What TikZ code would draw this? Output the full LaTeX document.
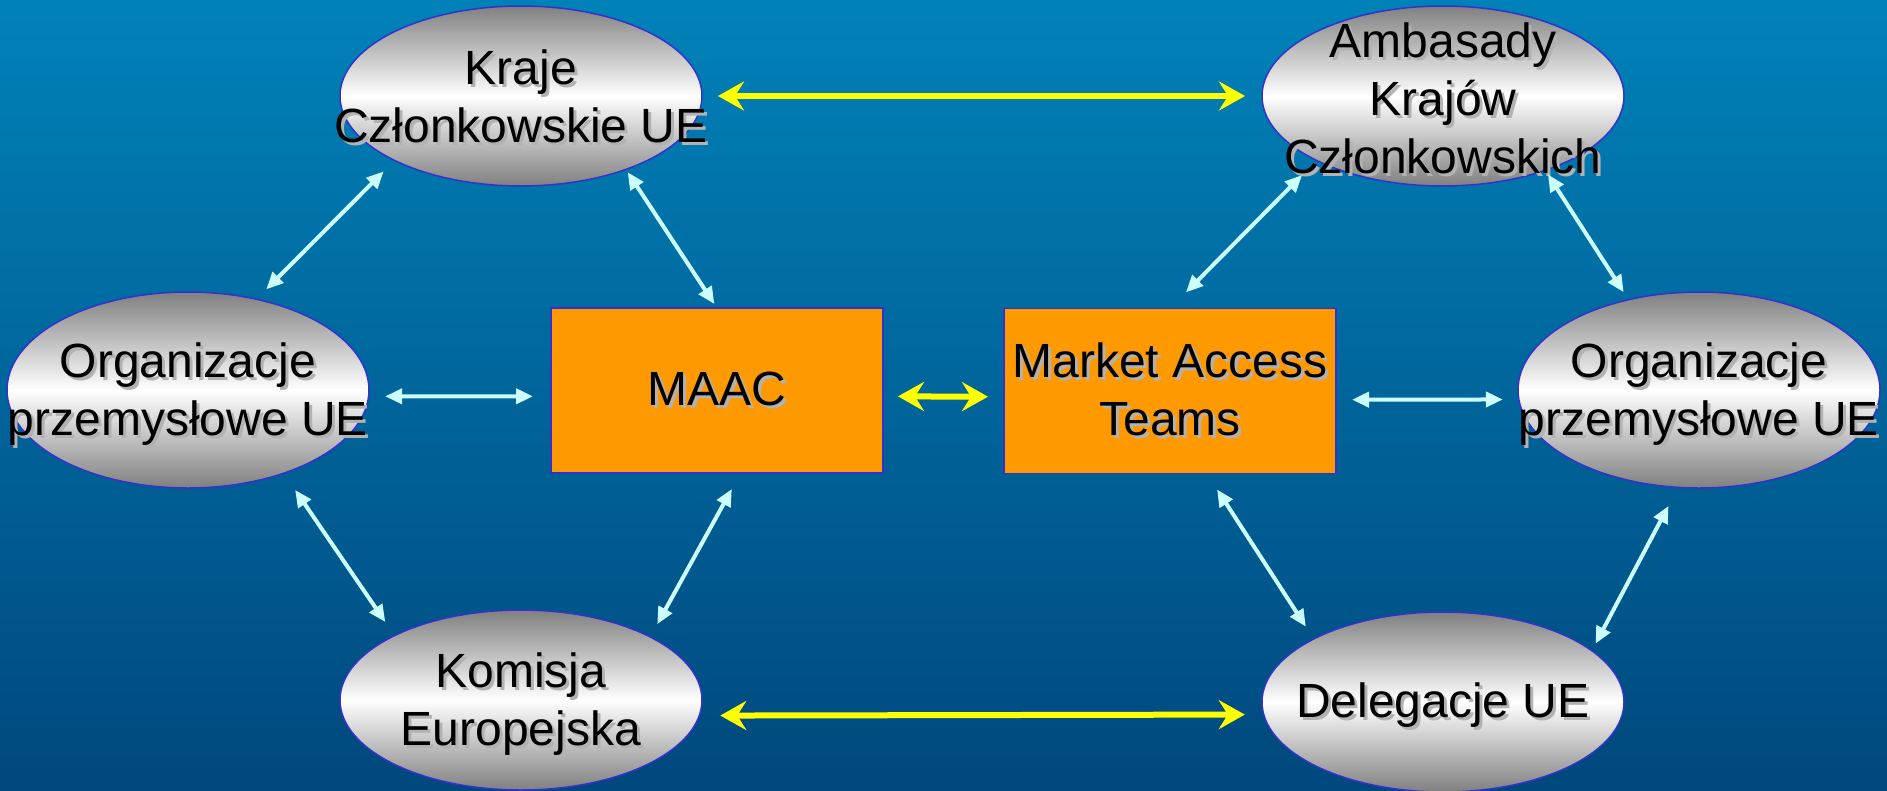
\documentclass[tikz,border=0pt]{standalone}
\usepackage{fontspec}
\setmainfont{Liberation Sans}
\usetikzlibrary{shapes.geometric,arrows.meta}
\definecolor{bgtop}{RGB}{0,130,185}
\definecolor{bgbot}{RGB}{0,72,125}
\definecolor{ellgray}{RGB}{128,128,128}
\definecolor{bordblue}{RGB}{51,51,204}
\definecolor{boxorange}{RGB}{255,153,0}
\definecolor{shadowgray}{RGB}{178,178,178}
\definecolor{cyanarrow}{RGB}{204,255,255}
\definecolor{yelarrow}{RGB}{255,255,0}
\newcommand\shd[1]{\rlap{\hspace{3pt}\raisebox{-3pt}{\color{shadowgray}#1}}#1}
\tikzset{
  ell/.style={ellipse, draw=bordblue, line width=1.5pt,
    top color=ellgray, bottom color=ellgray, middle color=white,
    minimum width=362pt, minimum height=180pt, inner sep=0pt, outer sep=0pt},
  tallell/.style={ell, minimum height=196pt},
  txt/.style={font=\fontsize{48}{58}\selectfont, align=center, text=black, inner sep=0pt},
  box/.style={rectangle, draw=bordblue, line width=1.5pt, fill=boxorange,
    minimum width=332pt, minimum height=165pt, inner sep=0pt, outer sep=0pt,
    font=\fontsize{48}{58}\selectfont, align=center, text=black},
  cya/.style={draw=cyanarrow, line width=4pt, {Triangle[length=17pt,width=15pt]}-{Triangle[length=17pt,width=15pt]}},
  yel/.style={draw=yelarrow, line width=6pt, {Stealth[length=26pt,width=29pt,inset=9pt]}-{Stealth[length=26pt,width=29pt,inset=9pt]}}
}
\begin{document}
\begin{tikzpicture}[x=1pt,y=-1pt]
\useasboundingbox (0,0) rectangle (1887,790);
\shade[top color=bgtop,bottom color=bgbot] (0,0) rectangle (1887,790);

\node[ell, label={[txt,yshift=-2pt]center:{\shd{Kraje}\\\shd{Członkowskie UE}}}] (kraje) at (521,96) {};
\node[ell, label={[txt,yshift=-4pt]center:{\shd{Ambasady}\\\shd{Krajów}\\\shd{Członkowskich}}}] (amb) at (1443,96) {};
\node[tallell, label={[txt,yshift=-6pt]center:{\shd{Organizacje}\\\shd{przemysłowe UE}}}] (orgl) at (188,390) {};
\node[tallell, label={[txt,yshift=-6pt]center:{\shd{Organizacje}\\\shd{przemysłowe UE}}}] (orgr) at (1699,390) {};
\node[ell, label={[txt,yshift=-6pt]center:{\shd{Komisja}\\\shd{Europejska}}}] (kom) at (521,700) {};
\node[ell, label={[txt,yshift=-5pt]center:{\shd{Delegacje UE}}}] (deleg) at (1443,702) {};

\node[box] (maac) at (717,390.5) {\shd{MAAC}};
\node[box] (mat) at (1170,391) {\shd{Market Access}\\\shd{Teams}};

% light cyan connectors
\draw[cya, shorten <=15.5pt, shorten >=14pt] (kraje.207.6) -- (orgl.53.7);
\draw[cya, shorten <=3.4pt, shorten >=4.8pt] (kraje.325.1) -- (maac.north);
\draw[cya, shorten <=16.5pt, shorten >=18pt] (orgl.-2.2) -- (maac.182.2);
\draw[cya, shorten <=20.3pt, shorten >=16.5pt] (orgl.319) -- (kom.153.1);
\draw[cya, shorten <=18.3pt, shorten >=14.6pt] (maac.286.2) -- (kom.26.1);
\draw[cya, shorten <=20.7pt, shorten >=22.7pt] (amb.207.8) -- (mat.north);
\draw[cya, shorten <=5pt, shorten >=9pt] (amb.324.8) -- (orgr.128.3);
\draw[cya, shorten <=16pt, shorten >=16pt] (mat.-3.1) -- (orgr.183.2);
\draw[cya, shorten <=19pt, shorten >=14.7pt] (mat.294.5) -- (deleg.154.3);
\draw[cya, shorten <=21pt, shorten >=8pt] (orgr.258.4) -- (deleg.19.3);

% yellow connectors
\draw[yel, shorten <=16pt, shorten >=17pt] (kraje.0) -- (amb.180);
\draw[yel, shorten <=21pt, shorten >=19pt] (kom.-5.1) -- (deleg.184.5);
\draw[yel, shorten <=15pt, shorten >=16pt] (maac.-2.6) -- (mat.182.6);
\end{tikzpicture}
\end{document}
